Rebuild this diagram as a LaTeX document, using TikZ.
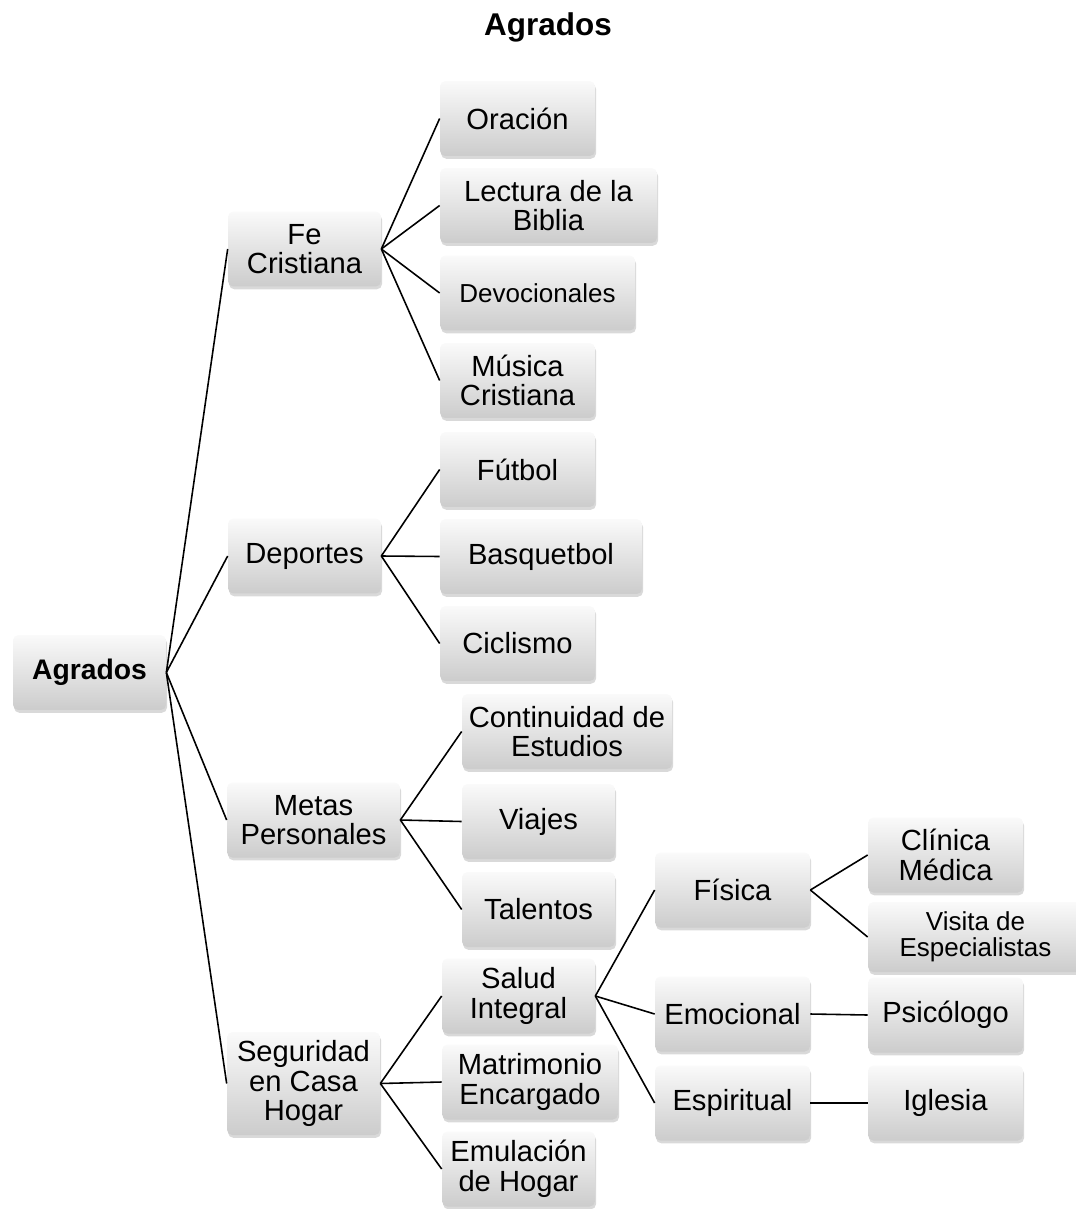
\documentclass[tikz,border=0pt]{standalone}
\usepackage{fontspec}
\setmainfont{Liberation Sans}
\usetikzlibrary{shadows}

\newcommand\boxfont{\fontsize{16.6}{16.8}\selectfont}
\newcommand\smallboxfont{\fontsize{14.8}{15}\selectfont}

\tikzset{
  box/.style={rounded corners=3pt, top color=gray!4, bottom color=gray!40,
    draw=none, align=center, inner sep=0pt, font=\boxfont,
    minimum width=3.06cm, minimum height=1.5cm,
    drop shadow={opacity=0.3, shadow xshift=0.6pt, shadow yshift=-1.6pt}},
  bw/.style={minimum width=#1*0.02cm},
  bh/.style={minimum height=#1*0.02cm},
  link/.style={line width=0.9pt, black}
}

\begin{document}
\begin{tikzpicture}[x=0.02cm, y=-0.02cm]
  \useasboundingbox (0,0) rectangle (1075,1209);
  \node[font=\fontsize{17.9}{18}\selectfont\bfseries] (title) at (548,27) {Agrados};

  % root and first level
  \node[box, font=\fontsize{16.1}{16.3}\selectfont\bfseries] (root) at (89.5,672.5) {Agrados};
  \node[box] (fe) at (304.5,249) {Fe\\Cristiana};
  \node[box] (dep) at (304.5,556) {Deportes};
  \node[box, bw=173] (metas) at (313.5,820) {Metas\\Personales};
  \node[box, bh=103] (seg) at (303.5,1083.5) {Seguridad\\en Casa\\Hogar};

  % Fe Cristiana
  \node[box, bw=155] (ora) at (517.5,118.5) {Oración};
  \node[box, bw=217] (lect) at (548.5,205.5) {Lectura de la\\Biblia};
  \node[box, bw=195, font=\smallboxfont] (devo) at (537.5,293) {Devocionales};
  \node[box, bw=155] (musica) at (517.5,380.5) {Música\\Cristiana};

  % Deportes
  \node[box, bw=155] (futbol) at (517.5,469.5) {Fútbol};
  \node[box, bw=202] (basq) at (541,556.5) {Basquetbol};
  \node[box, bw=155] (cicl) at (517.5,643.5) {Ciclismo};

  % Metas Personales
  \node[box, bw=210] (estud) at (567,731.5) {Continuidad de\\Estudios};
  \node[box] (viajes) at (538.5,821.5) {Viajes};
  \node[box] (talent) at (538.5,909.5) {Talentos};

  % Seguridad en Casa Hogar
  \node[box] (salud) at (518.5,996) {Salud\\Integral};
  \node[box, bw=176] (matri) at (530,1082) {Matrimonio\\Encargado};
  \node[box] (emul) at (518.5,1169) {Emulación\\de Hogar};

  % Salud Integral
  \node[box, bw=155] (fisica) at (732.5,890) {Física};
  \node[box, bw=155] (emoc) at (732.5,1014) {Emocional};
  \node[box, bw=155] (espir) at (732.5,1103) {Espiritual};
  \node[box, bw=155] (clinica) at (945.5,855) {Clínica\\Médica};
  \node[box, bw=215, bh=70, font=\smallboxfont] (visita) at (975.5,937) {Visita de\\Especialistas};
  \node[box, bw=155] (psico) at (945.5,1015) {Psicólogo};
  \node[box, bw=155] (iglesia) at (945.5,1103) {Iglesia};

  % connectors
  \foreach \c in {fe,dep,metas,seg} \draw[link] (root.east) -- (\c.west);
  \foreach \c in {ora,lect,devo,musica} \draw[link] (fe.east) -- (\c.west);
  \foreach \c in {futbol,basq,cicl} \draw[link] (dep.east) -- (\c.west);
  \foreach \c in {estud,viajes,talent} \draw[link] (metas.east) -- (\c.west);
  \foreach \c in {salud,matri,emul} \draw[link] (seg.east) -- (\c.west);
  \foreach \c in {fisica,emoc,espir} \draw[link] (salud.east) -- (\c.west);
  \foreach \c in {clinica,visita} \draw[link] (fisica.east) -- (\c.west);
  \draw[link] (emoc.east) -- (psico.west);
  \draw[link] (espir.east) -- (iglesia.west);
\end{tikzpicture}
\end{document}
